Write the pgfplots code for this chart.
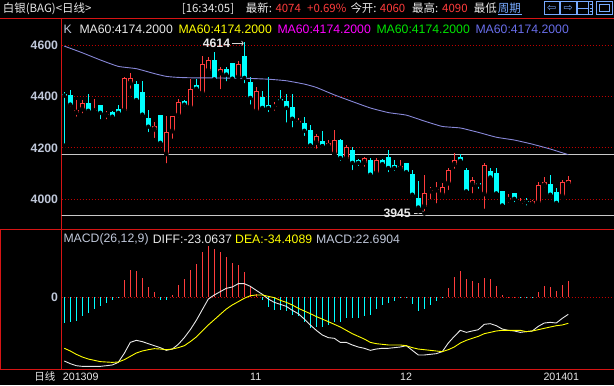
\documentclass[border=0pt]{standalone}
\usepackage{fontspec}
\setmainfont{Liberation Sans}
\newfontfamily\cjk{Noto Sans CJK SC}
\newfontfamily\dejavu{DejaVu Sans}
\usepackage{pgfplots}
\usepackage{pgfplotstable}
\pgfplotsset{compat=1.18}
\usetikzlibrary{arrows.meta}

\definecolor{cR}{RGB}{255,60,60}
\definecolor{cC}{RGB}{0,255,255}
\definecolor{cGrid}{RGB}{190,0,0}
\definecolor{cFrame}{RGB}{215,20,20}
\definecolor{cLab}{RGB}{192,200,218}
\definecolor{cMA}{RGB}{135,135,215}
\definecolor{cW}{RGB}{232,232,232}
\definecolor{cY}{RGB}{255,255,0}
\definecolor{cM}{RGB}{255,0,255}
\definecolor{cG}{RGB}{0,230,0}
\definecolor{cB}{RGB}{105,110,235}
\definecolor{cLink}{RGB}{120,170,255}
\definecolor{cHL}{RGB}{200,200,200}

% up (red) candles: i open high low close
\pgfplotstableread{
i o h l c
2 4337 4387 4314 4348
3 4350 4387 4327 4374
5 4343 4392 4337 4348
7 4327 4345 4304 4332
10 4345 4478 4340 4473
11 4452 4491 4423 4473
15 4272 4301 4231 4285
17 4176 4324 4132 4262
18 4265 4324 4228 4324
19 4327 4392 4311 4379
21 4358 4467 4358 4428
23 4413 4558 4405 4527
24 4501 4553 4488 4543
26 4491 4514 4421 4506
29 4475 4540 4460 4527
32 4343 4436 4335 4421
35 4358 4379 4337 4362
39 4296 4317 4293 4304
42 4220 4254 4189 4246
44 4207 4233 4200 4220
45 4176 4270 4176 4233
47 4158 4210 4153 4205
50 4142 4163 4119 4161
52 4101 4161 4096 4155
56 4119 4155 4116 4129
60 3971 4093 3945 4025
61 4031 4049 3992 4038
62 4035 4067 3976 4039
63 4018 4062 4018 4049
64 4062 4124 4028 4114
65 4135 4179 4111 4155
68 4057 4088 4015 4075
70 4020 4140 3955 4132
74 3997 4020 3979 4007
76 3981 4007 3976 3986
78 3981 3997 3979 3994
79 3986 4067 3984 4054
80 4054 4088 4038 4067
83 4012 4077 4005 4067
84 4060 4090 4044 4074
}\upT

% down (cyan) candles
\pgfplotstableread{
i o h l c
0 4410 4418 4209 4404
1 4405 4426 4353 4369
4 4374 4410 4337 4345
6 4366 4369 4304 4337
8 4340 4345 4311 4322
9 4353 4366 4330 4337
12 4449 4460 4374 4387
13 4418 4460 4314 4330
14 4317 4348 4254 4283
16 4327 4327 4215 4220
20 4382 4387 4353 4369
22 4444 4470 4421 4431
25 4543 4574 4465 4467
27 4506 4514 4452 4486
28 4530 4530 4462 4470
30 4558 4614 4444 4473
31 4457 4475 4361 4395
33 4397 4421 4348 4356
34 4366 4475 4332 4356
36 4392 4426 4371 4384
37 4384 4410 4291 4356
38 4358 4410 4272 4314
40 4296 4319 4239 4267
41 4272 4288 4194 4210
43 4226 4265 4207 4207
46 4231 4236 4142 4161
48 4192 4205 4106 4142
49 4155 4158 4122 4142
51 4155 4161 4090 4096
53 4155 4158 4132 4137
54 4166 4194 4098 4122
55 4135 4155 4103 4122
57 4140 4140 4096 4106
58 4098 4114 4002 4018
59 4005 4070 3953 3968
66 4166 4176 4142 4150
67 4116 4122 4015 4031
69 4064 4064 4033 4057
71 4109 4124 4072 4085
72 4101 4124 4018 4023
73 4031 4033 3971 3976
75 4023 4023 3981 4002
77 3993 4005 3968 3989
81 4059 4096 4007 4018
82 4028 4044 3971 3986
}\downT

\pgfplotstableread{
i v
0 4597
3 4571
6 4543
9 4518
12 4509
15 4490
17 4479
19 4475
22 4473
25 4473
28 4472
31 4471
34 4468
37 4462
40 4449
42 4436
45 4407
48 4381
51 4356
54 4338
57 4328
60 4305
63 4284
66 4278
69 4261
72 4242
75 4231
78 4215
81 4196
84 4174
}\maT

\pgfplotstableread{
i v
10 23.9
11 37.3
12 35.9
13 26.7
14 13.8
15 6.9
18 2.8
19 16.6
20 24.8
21 37.7
22 45.5
23 61.6
24 69.9
25 66.2
26 61.6
27 55.2
28 46.9
29 44.2
30 34.0
31 15.6
32 4.6
64 12.9
65 27.6
66 35.9
67 24.8
68 22.1
69 19.3
70 26.7
71 24.8
72 15.2
73 2.8
74 0.5
75 0.4
79 6.9
80 15.2
81 13.8
82 8.3
83 16.6
84 22.7
}\hposT

\pgfplotstableread{
i v
0 -35.4
1 -34.0
2 -32.7
3 -25.8
4 -22.1
5 -16.6
6 -12.0
7 -7.8
8 -3.7
9 -0.5
16 -3.7
17 -4.6
33 -4.6
34 -13.8
35 -18.4
36 -17.5
37 -19.3
38 -24.8
39 -25.8
40 -35.0
41 -42.3
42 -40.9
43 -40.9
44 -38.6
45 -35.0
46 -34.0
47 -29.4
48 -28.5
49 -29.4
50 -25.8
51 -24.8
52 -16.6
53 -11.0
54 -8.3
55 -5.5
56 -1.4
57 -0.5
58 -10.1
59 -19.3
60 -16.6
61 -11.0
62 -5.5
63 -0.4
76 -0.9
77 -1.4
78 -0.5
}\hnegT

\pgfplotstableread{
i diff dea
0 -88.3 -70.8
1 -92.0 -74.5
2 -94.8 -79.1
3 -95.7 -82.8
4 -95.7 -85.6
5 -95.7 -87.4
6 -95.7 -89.2
7 -94.8 -89.7
8 -93.8 -90.2
9 -90.2 -89.7
10 -77.7 -86.5
11 -62.6 -81.9
12 -59.8 -77.3
13 -61.6 -74.5
14 -64.4 -72.7
15 -67.2 -71.3
16 -69.9 -71.8
17 -73.6 -72.7
18 -71.8 -71.8
19 -65.3 -69.9
20 -56.1 -67.2
21 -45.1 -61.6
22 -32.2 -55.2
23 -17.5 -46.9
24 -2.8 -38.6
25 2.8 -31.3
26 7.4 -23.9
27 12.0 -16.6
28 13.8 -11.0
29 18.4 -6.4
30 18.4 -1.8
31 14.7 1.8
32 9.2 2.8
33 3.7 2.8
34 -2.8 0.9
35 -7.4 -0.9
36 -10.1 -4.6
37 -12.9 -7.4
38 -18.4 -11.0
39 -23.0 -15.6
40 -30.4 -19.3
41 -38.6 -23.0
42 -46.0 -27.0
43 -52.4 -30.5
44 -56.1 -34.0
45 -57.0 -37.7
46 -62.6 -41.4
47 -62.6 -46.0
48 -66.2 -50.6
49 -69.0 -54.3
50 -70.8 -58.0
51 -73.6 -62.6
52 -71.8 -64.4
53 -70.8 -65.3
54 -70.8 -66.2
55 -69.9 -66.2
56 -69.0 -66.2
57 -67.2 -67.2
58 -73.6 -69.9
59 -80.0 -71.8
60 -80.0 -72.7
61 -79.1 -73.6
62 -78.2 -74.5
63 -75.4 -75.4
64 -63.5 -72.7
65 -54.3 -69.0
66 -46.0 -63.5
67 -48.8 -59.8
68 -46.9 -57.0
69 -45.1 -54.3
70 -37.7 -50.6
71 -36.8 -48.8
72 -39.6 -46.9
73 -44.2 -46.0
74 -46.0 -46.0
75 -46.9 -46.0
76 -48.8 -46.0
77 -47.8 -47.8
78 -46.9 -46.9
79 -40.5 -45.1
80 -35.9 -43.2
81 -35.0 -41.4
82 -35.9 -39.6
83 -29.4 -38.6
84 -23.9 -36.3
}\macdT

\tikzset{
  hd/.style={anchor=west, inner sep=0pt, font=\cjk\fontsize{11.5}{12}\selectfont},
  lg/.style={anchor=west, inner sep=0pt, font=\fontsize{12.3}{12}\selectfont},
  bt/.style={anchor=west, inner sep=0pt, font=\fontsize{10.7}{11}\selectfont, text=cW},
}

\begin{document}
\begin{tikzpicture}[x=1bp,y=1bp]
\fill[black] (0,0) rectangle (614,385);
\useasboundingbox (0,0) rectangle (614,385);

% frame lines
\draw[cFrame, line width=1bp] (0,366.7) -- (614,366.7);
\draw[cFrame, line width=1bp] (61.5,366.7) -- (61.5,16);
\draw[cFrame, line width=1bp] (0,156) -- (614,156);
\draw[cFrame, line width=1bp] (0,16) -- (614,16);
\draw[cFrame, line width=1bp] (0.5,16) -- (0.5,156);

% header
\node[hd, text=cW] at (2.7,376.5) {白银(BAG)<日线>};
\node[hd, text=cW] at (181.7,376.5) {[16:34:05]};
\node[hd, text=cW] at (245.7,376.5) {最新:};
\node[hd, text=cR] at (275.3,376.5) {4074};
\node[hd, text=cR] at (307,376.5) {+0.69\%};
\node[hd, text=cW] at (350.3,376.5) {今开:};
\node[hd, text=cR] at (379.7,376.5) {4060};
\node[hd, text=cW] at (412,376.5) {最高:};
\node[hd, text=cR] at (442,376.5) {4090};
\node[hd, text=cW] at (473.7,376.5) {最低};
\node[hd, text=cLink] at (497.7,376.5) {周期};
\draw[cLink, line width=0.8bp] (497.7,370.3) -- (522,370.3);
% icons
\draw[cLink, line width=0.8bp] (544,370.8) rectangle (559.5,383.2);
\node[inner sep=0, text=cLink, font=\dejavu\fontsize{11}{11}\selectfont] at (551.8,377) {⇦};
\draw[cLink, line width=0.8bp] (560.5,370.8) rectangle (576,383.2);
\node[inner sep=0, text=cLink, font=\dejavu\fontsize{11}{11}\selectfont] at (568.3,377) {⇨};
\draw[cLink, line width=0.8bp] (577.3,370.8) rectangle (592.8,383.2);
\draw[cLink, line width=0.8bp] (588.3,370.8) -- (588.3,383.2) (577.3,377) -- (588.3,377);
\draw[cLink, line width=0.6bp] (589.5,380.5) -- (591.5,380.5) (589.5,377) -- (591.5,377) (589.5,373.5) -- (591.5,373.5);
\draw[cLink, line width=0.8bp] (596.5,370.8) rectangle (612,383.2);
\draw[cLink, line width=0.8bp] (599,373.3) rectangle (609.5,380.7);

% legend row
\node[lg, text=cLab] at (63.3,356) {K};
\node[lg, text=cW] at (79.3,356) {MA60:4174.2000};
\node[lg, text=cY] at (178.3,356) {MA60:4174.2000};
\node[lg, text=cM] at (277.3,356) {MA60:4174.2000};
\node[lg, text=cG] at (376.3,356) {MA60:4174.2000};
\node[lg, text=cB] at (475.3,356) {MA60:4174.2000};

% MACD text row
\node[lg, text=cLab] at (63.3,146) {MACD(26,12,9)};
\node[lg, text=cW] at (152.7,146) {DIFF:-23.0637};
\node[lg, text=cY] at (235,146) {DEA:-34.4089};
\node[lg, text=cLab] at (316,146) {MACD:22.6904};

% bottom row
\node[bt, font=\cjk\fontsize{10.5}{11}\selectfont] at (34.3,8.3) {日线};
\node[bt] at (62.7,8.3) {201309};
\node[bt] at (250,8.3) {11};
\node[bt] at (400,8.3) {12};
\node[bt] at (543.3,8.3) {201401};

% ---------- price axis ----------
\begin{axis}[
  at={(61.5bp,156bp)}, anchor=south west,
  width=552.5bp, height=210.7bp, scale only axis,
  xmin=-0.467, xmax=91.62, ymin=3884.4, ymax=4705.3,
  axis line style={draw=none}, major tick length=0pt,
  xtick=\empty, ytick={4000,4200,4400,4600},
  ymajorgrids, grid style={cGrid, line width=1bp, dash pattern=on 1bp off 2bp},
  yticklabel style={font=\bfseries\fontsize{12.3}{12}\selectfont, text=cLab},
  /pgf/number format/1000 sep={},
  /pgf/number format/assume math mode=true,
]
\addplot[cHL, line width=0.9bp, forget plot] coordinates {(-1,4175.7) (95,4175.7)};
\addplot[cHL, line width=0.9bp, forget plot] coordinates {(-1,3937.4) (95,3937.4)};

% cyan candles
\addplot[only marks, mark=none, forget plot,
  error bars/.cd, y dir=plus, y explicit, error mark=none,
  error bar style={line width=1bp, color=cC}]
  table[x=i, y=l, y error plus expr=\thisrow{h}-\thisrow{l}] {\downT};
\addplot[only marks, mark=none, forget plot,
  error bars/.cd, y dir=plus, y explicit, error mark=none,
  error bar style={line width=5bp, color=cC}]
  table[x=i, y=c, y error plus expr=\thisrow{o}-\thisrow{c}] {\downT};

% red candles (hollow)
\addplot[only marks, mark=none, forget plot,
  error bars/.cd, y dir=plus, y explicit, error mark=none,
  error bar style={line width=1bp, color=cR}]
  table[x=i, y=l, y error plus expr=\thisrow{h}-\thisrow{l}] {\upT};
\addplot[only marks, mark=none, forget plot,
  error bars/.cd, y dir=plus, y explicit, error mark=none,
  error bar style={line width=5bp, color=cR}]
  table[x=i, y=o, y error plus expr=\thisrow{c}-\thisrow{o}] {\upT};
\addplot[only marks, mark=none, forget plot,
  error bars/.cd, y dir=plus, y explicit, error mark=none,
  error bar style={line width=3bp, color=black}]
  table[x=i, y expr=\thisrow{o}+3.9, y error plus expr={max(0,\thisrow{c}-\thisrow{o}-7.8)}] {\upT};

% MA60
\addplot[cMA, line width=0.9bp, mark=none, smooth, tension=0.3] table[x=i, y=v] {\maT};

% annotations
\node[anchor=east, inner sep=0pt, text=cW, font=\bfseries\fontsize{12.3}{12}\selectfont] at (axis cs:27.67,4608) {4614};
\draw[cW!80!gray, line width=0.8bp, -{To[length=2.5bp,width=5bp]}] (axis cs:27.95,4608) -- (axis cs:29.9,4608);
\node[anchor=east, inner sep=0pt, text=cW, font=\bfseries\fontsize{12.3}{12}\selectfont] at (axis cs:57.78,3946.7) {3945};
\draw[cW!80!gray, line width=0.8bp, -{To[length=2.5bp,width=5bp]}] (axis cs:58.28,3946.7) -- (axis cs:60.1,3946.7);
\end{axis}

% ---------- MACD axis ----------
\begin{axis}[
  at={(61.5bp,16bp)}, anchor=south west,
  width=552.5bp, height=140bp, scale only axis,
  xmin=-0.467, xmax=91.62, ymin=-99.36, ymax=93.84,
  axis line style={draw=none}, major tick length=0pt,
  xtick=\empty, ytick={0},
  ymajorgrids, grid style={cGrid, line width=1bp, dash pattern=on 1bp off 2bp},
  yticklabel style={font=\bfseries\fontsize{12.3}{12}\selectfont, text=cLab},
  /pgf/number format/assume math mode=true,
]
\addplot[ycomb, cR, line width=1bp, mark=none] table[x=i, y=v] {\hposT};
\addplot[ycomb, cC, line width=1bp, mark=none] table[x=i, y=v] {\hnegT};
\addplot[cW, line width=0.9bp, mark=none] table[x=i, y=diff] {\macdT};
\addplot[cY, line width=0.9bp, mark=none] table[x=i, y=dea] {\macdT};
\end{axis}
\end{tikzpicture}
\end{document}
